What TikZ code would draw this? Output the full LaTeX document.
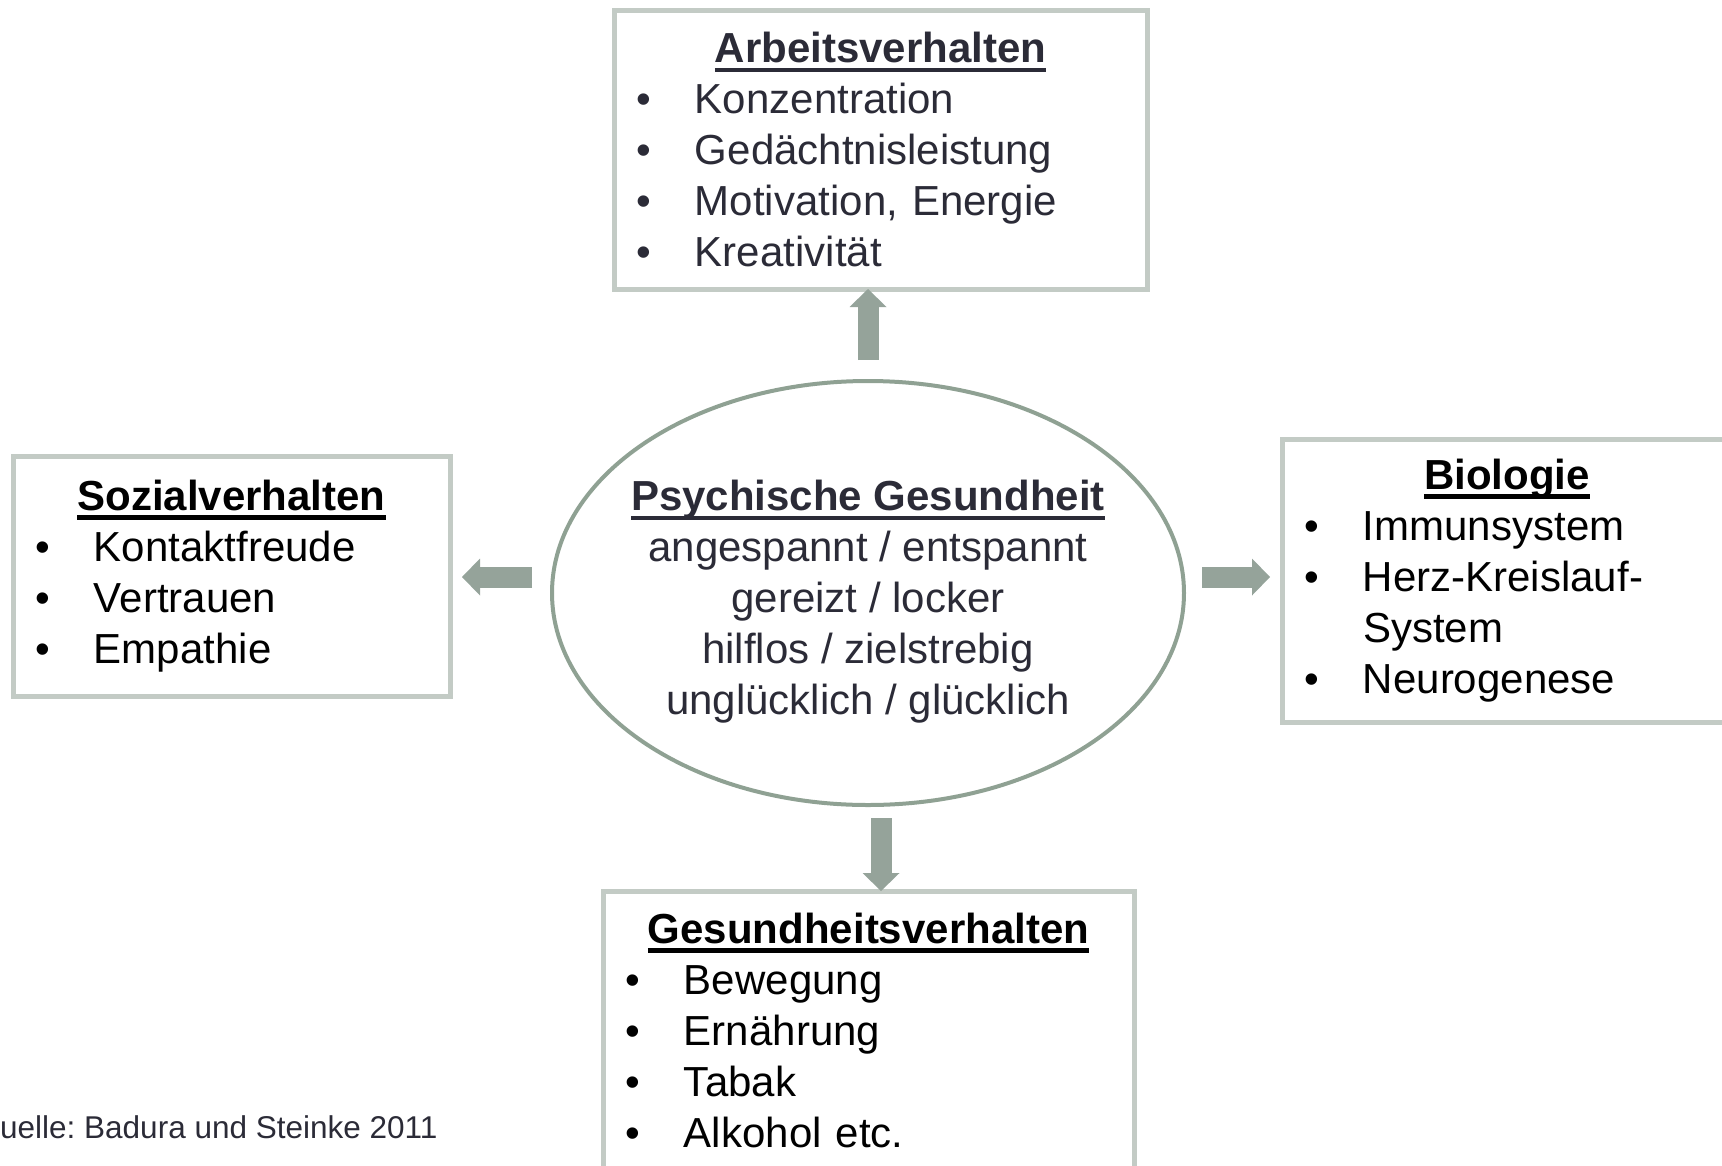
\documentclass[tikz,border=0pt]{standalone}
\usepackage{fontspec}
\setmainfont{Liberation Sans}
\usetikzlibrary{arrows.meta,shapes.geometric}
\definecolor{boxline}{HTML}{C3CBC5}
\definecolor{arrowfill}{HTML}{95A39A}
\definecolor{ellline}{HTML}{8FA193}
\definecolor{darktext}{HTML}{2B2B37}
\frenchspacing
\newsavebox{\headbox}
\newcommand{\ulhead}[1]{\sbox{\headbox}{\textbf{#1}}\rlap{\smash{\raisebox{-9.5pt}{\rule{\wd\headbox}{4.5pt}}}}\usebox{\headbox}}
\newcommand{\boxhead}[1]{\null\hfill\ulhead{#1}\hfill\null}
\newcommand{\bul}{\makebox[59pt][l]{\textbullet}}
\newcommand{\nobul}{\makebox[59pt][l]{}}

\begin{document}
\begin{tikzpicture}[x=1pt, y=-1pt,
	listbox/.style={draw=boxline, line width=5pt, fill=white, anchor=north west, align=left, outer sep=0pt,
		inner xsep=22pt, inner ysep=22pt, font=\fontsize{42}{51}\selectfont},
	blockarrow/.style={draw=arrowfill, line width=21pt, -{Triangle[width=37pt,length=18pt,line width=0pt]}}]
	\useasboundingbox (0,0) rectangle (1722,1165);
	\node[listbox, text=darktext, text width=489pt, inner ysep=20pt, minimum height=279pt] (arbeit) at (614,10) {
		\boxhead{Arbeitsverhalten}\\ \bul Konzentration\\ \bul Gedächtnisleistung\\
		\bul Motivation, Energie\\ \bul Kreativität};
	\node[listbox, text width=393pt, minimum height=240pt] (sozial) at (13,456) {
		\boxhead{Sozialverhalten}\\ \bul Kontaktfreude\\ \bul Vertrauen\\ \bul Empathie};
	\node[listbox, inner ysep=20pt, text width=406pt, minimum height=279pt] (bio) at (1282,439) {
		\boxhead{Biologie}\\ \bul Immunsystem\\ \bul Herz-Kreislauf-\\ \nobul System\\ \bul Neurogenese};
	\node[listbox, text width=487pt] (gesund) at (603,891) {
		\boxhead{Gesundheitsverhalten}\\ \bul Bewegung\\ \bul Ernährung\\ \bul Tabak\\ \bul Alkohol etc.};
	\node[ellipse, draw=ellline, line width=4pt, minimum width=632pt, minimum height=424pt, inner sep=0pt] (psych) at (868,593) {};
	\node[align=center, text=darktext, inner sep=0pt, font=\fontsize{42}{51}\selectfont] (psychtext) at (868,602) {
		\ulhead{Psychische Gesundheit}\\ angespannt / entspannt\\ gereizt / locker\\
		hilflos / zielstrebig\\ unglücklich / glücklich};
	\draw[blockarrow, shorten <=19pt] (psych.north) -- (psych.north |- arbeit.south);
	\draw[blockarrow, shorten <=18pt, shorten >=12pt] ([yshift=16pt]psych.west) -- ([yshift=16pt]psych.west -| sozial.east);
	\draw[blockarrow, shorten <=16pt, shorten >=12pt] ([yshift=16pt]psych.east) -- ([yshift=16pt]psych.east -| bio.west);
	\draw[blockarrow, shorten <=11pt] ([xshift=13pt]psych.south) -- ([xshift=13pt]psych.south |- gesund.north);
	\node[anchor=west, inner sep=0pt, text=darktext, font=\fontsize{31.5}{37}\selectfont] (quelle) at (0,1127) {uelle: Badura und Steinke 2011};
\end{tikzpicture}
\end{document}
